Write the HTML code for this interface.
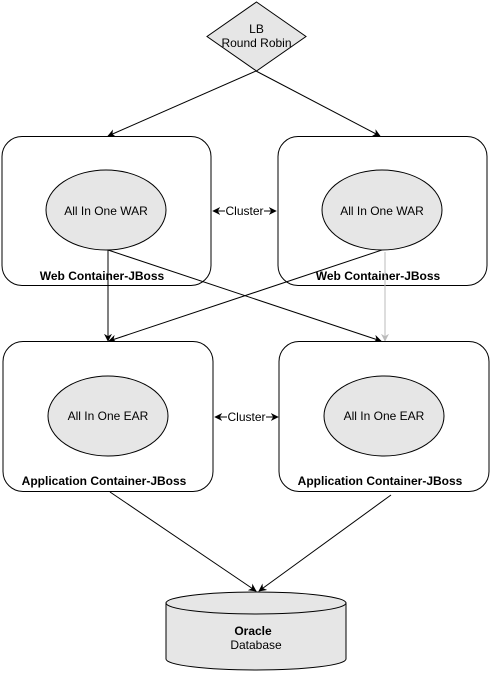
<!DOCTYPE html>
<html><head><meta charset="utf-8"><style>
html,body{margin:0;padding:0;background:#fff;}
svg{display:block;}
text{font-family:"Liberation Sans",Arial,sans-serif;font-size:12px;fill:#000;}
.b{font-weight:bold;}
</style></head><body>
<svg width="492" height="674" viewBox="0 0 492 674" xmlns="http://www.w3.org/2000/svg">
<defs>
<marker id="a" viewBox="0 0 10 10" refX="9" refY="5" markerWidth="8" markerHeight="8" orient="auto-start-reverse" markerUnits="userSpaceOnUse"><path d="M0,0 L10,5 L0,10 L3,5 z" fill="#000"/></marker>
<marker id="g" viewBox="0 0 10 10" refX="9" refY="5" markerWidth="8" markerHeight="8" orient="auto" markerUnits="userSpaceOnUse"><path d="M0,0 L10,5 L0,10 L3,5 z" fill="#bbb"/></marker>
</defs>
<!-- LB diamond -->
<polygon points="256.5,2 306,36.5 256.5,71 207,36.5" fill="#e6e6e6" stroke="#000"/>
<text x="256.5" y="33" text-anchor="middle">LB</text>
<text x="256.5" y="47" text-anchor="middle">Round Robin</text>
<line x1="256" y1="71" x2="108" y2="136" stroke="#000" marker-end="url(#a)"/>
<line x1="256" y1="71" x2="380" y2="136" stroke="#000" marker-end="url(#a)"/>
<!-- web boxes -->
<rect x="2" y="136.5" width="209" height="149" rx="20" fill="#fff" stroke="#000"/>
<rect x="278" y="136.5" width="209" height="149" rx="20" fill="#fff" stroke="#000"/>
<ellipse cx="106" cy="210" rx="60" ry="40" fill="#e6e6e6" stroke="#000"/>
<ellipse cx="382" cy="210" rx="60" ry="40" fill="#e6e6e6" stroke="#000"/>
<text x="106" y="215" text-anchor="middle">All In One WAR</text>
<text x="382" y="215" text-anchor="middle">All In One WAR</text>
<text x="102" y="280" text-anchor="middle" class="b">Web Container-JBoss</text>
<text x="378" y="280" text-anchor="middle" class="b">Web Container-JBoss</text>
<line x1="213" y1="211" x2="225" y2="211" stroke="#000" marker-start="url(#a)"/>
<line x1="264" y1="211" x2="276" y2="211" stroke="#000" marker-end="url(#a)"/>
<text x="244.5" y="215" text-anchor="middle">Cluster</text>
<!-- cross lines -->
<line x1="108" y1="250" x2="108" y2="341" stroke="#000" marker-end="url(#a)"/>
<line x1="108" y1="250" x2="381" y2="341" stroke="#000" marker-end="url(#a)"/>
<line x1="382" y1="250" x2="109" y2="341" stroke="#000" marker-end="url(#a)"/>
<line x1="385" y1="252" x2="385" y2="341" stroke="#bbb" marker-end="url(#g)"/>
<!-- app boxes -->
<rect x="3" y="341.5" width="210" height="150" rx="20" fill="#fff" stroke="#000"/>
<rect x="279" y="341.5" width="210" height="150" rx="20" fill="#fff" stroke="#000"/>
<ellipse cx="108" cy="416" rx="60" ry="40" fill="#e6e6e6" stroke="#000"/>
<ellipse cx="384" cy="416" rx="60" ry="40" fill="#e6e6e6" stroke="#000"/>
<text x="108" y="420" text-anchor="middle">All In One EAR</text>
<text x="384" y="420" text-anchor="middle">All In One EAR</text>
<text x="104" y="485" text-anchor="middle" class="b">Application Container-JBoss</text>
<text x="380" y="485" text-anchor="middle" class="b">Application Container-JBoss</text>
<line x1="215" y1="417" x2="227" y2="417" stroke="#000" marker-start="url(#a)"/>
<line x1="266" y1="417" x2="278" y2="417" stroke="#000" marker-end="url(#a)"/>
<text x="246.5" y="421" text-anchor="middle">Cluster</text>
<!-- db lines -->
<line x1="110" y1="492" x2="256" y2="591" stroke="#000" marker-end="url(#a)"/>
<line x1="391" y1="495" x2="259" y2="591" stroke="#000" marker-end="url(#a)"/>
<!-- cylinder -->
<path d="M166,603 A90,11 0 0 1 346,603 L346,659 A90,11 0 0 1 166,659 Z" fill="#e6e6e6" stroke="#000"/>
<path d="M166,603 A90,11 0 0 0 346,603" fill="none" stroke="#000"/>
<text x="253" y="635" text-anchor="middle" class="b">Oracle</text>
<text x="256" y="649" text-anchor="middle">Database</text>
</svg>
</body></html>
